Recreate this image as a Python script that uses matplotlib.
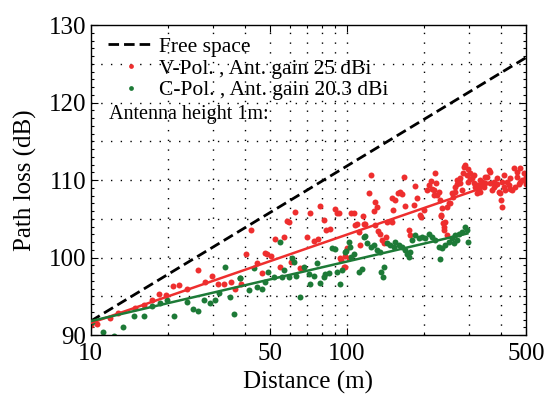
import numpy as np
import matplotlib
matplotlib.use("Agg")
import matplotlib.pyplot as plt
from matplotlib.ticker import FixedLocator, NullFormatter, MultipleLocator, FixedFormatter

plt.rcParams['font.family'] = ['Liberation Serif', 'DejaVu Serif']

# ---------------- data ----------------
red_d = [10.0, 10.6, 11.9, 12.8, 14.9, 16.1, 17.3, 18.5, 19.7, 21.0, 22.2, 23.7, 26.3, 28.0, 29.7,
         31.5, 33.2, 35.2, 36.6, 38.7, 40.3, 42.3, 44.5, 46.5, 48.7, 50.5, 52.5, 56.6, 54.6, 58.6,
         60.6, 62.8, 67.3, 69.8, 71.5, 74.1, 76.8, 78.2, 81.1, 83.0, 85.5, 90.0, 91.4, 94.8, 97.9,
         100.0, 103.7, 106.9, 109.4, 115.5, 116.1, 122.2, 124.1, 127.1, 129.1, 132.1, 137.0, 142.6,
         150.0, 151.4, 154.5, 157.8, 160.7, 164.1, 166.4, 169.0, 175.0, 182.0, 184.9, 187.5, 192.1,
         194.4, 199.1, 205.4, 208.5, 214.8, 218.3, 221.3, 223.4, 228.0, 230.1, 232.8, 237.1, 239.9,
         245.9, 253.4, 259.4, 264.9, 269.2, 277.3, 283.8, 289.7, 295.8, 303.4, 312.6, 322.1, 331.9,
         342.0, 352.4, 363.1, 374.1, 385.5, 397.2, 403.2, 409.3, 421.7, 434.5, 447.7, 461.3, 475.3,
         489.7, 497.5,
         212.0, 218.3, 225.5, 235.6, 232.2, 249.6, 257.9, 269.2, 282.2, 286.4, 295.0, 308.0, 316.8,
         322.1, 342.0, 357.7, 379.8, 391.3, 400.0, 440.9, 468.3, 475.3, 482.5, 415.5, 368.6, 336.9,
         347.2, 331.9, 303.4, 277.3, 264.9,
         107.8, 117.9, 129.1, 143.3, 150.0, 134.9, 139.1, 112.7, 101.5, 97.0, 176.6, 238.5, 242.2,
         245.9, 59.2, 92.8, 130.9, 111.1, 48.0, 65.7, 98.5, 94.2,
         326.9, 347.2, 385.5, 428.0, 454.5, 489.7, 497.5, 434.5, 374.0, 363.0, 331.9, 312.6, 295.8,
         461.0, 409.0, 403.0]
red_pl = [91.3, 91.4, 92.15, 92.9, 93.45, 93.9, 94.5, 95.25, 95.2, 96.3, 96.45, 95.9, 98.4, 96.9, 97.65,
          96.65, 96.65, 96.9, 95.9, 96.55, 100.4, 103.6, 99.25, 97.95, 100.45, 100.2, 102.35, 102.6, 98.8, 104.75,
          99.45, 105.9, 98.6, 102.6, 105.7, 102.1, 102.35, 106.65, 104.9, 103.6, 103.7, 106.2, 105.8, 99.7, 100.25,
          101.2, 105.7, 105.8, 104.3, 105.35, 104.3, 108.3, 110.65, 106.05, 107.2, 103.45, 102.25, 102.7,
          107.65, 106.1, 107.4, 108.3, 108.4, 108.2, 110.45, 106.65, 103.55, 106.8, 109.2, 107.65, 105.5,
          105.2, 106.1, 108.7, 109.35, 108.8, 108.05, 110.95, 109.6, 108.5, 107.4, 105.5, 104.4, 103.55,
          106.55, 107.0, 107.85, 108.5, 109.5, 110.2, 110.85, 111.9, 111.4, 110.1, 110.65, 109.35, 110.0,
          109.65, 110.45, 111.1, 109.8, 109.55, 108.3, 106.55, 109.1, 109.8, 110.2, 111.5, 110.45, 109.8,
          110.85, 109.55,
          109.9, 108.7, 108.05, 106.35, 105.3, 107.0, 108.3, 110.0, 108.7, 111.7, 110.65, 110.2, 109.1,
          108.3, 109.1, 111.3, 109.35, 108.5, 107.4, 108.7, 109.55, 111.5, 110.0, 108.7, 108.7, 109.8,
          110.45, 108.5, 110.85, 109.6, 109.15,
          104.2, 104.3, 104.2, 104.6, 104.6, 103.1, 101.85, 101.6, 99.9, 98.8, 102.9, 104.0, 104.6,
          102.9, 104.6, 105.7, 106.55, 103.3, 100.55, 98.6, 98.8, 99.9,
          108.9, 109.6, 110.2, 109.35, 109.1, 110.0, 110.45, 108.9, 109.1, 109.6, 109.35, 109.6, 109.8,
          111.1, 110.65, 109.8]

green_d = [10.1, 11.2, 12.3, 13.4, 14.7, 16.1, 17.3, 18.7, 19.9, 21.2, 23.7, 25.0, 26.3, 27.7, 29.1,
           30.6, 31.8, 33.5, 35.0, 36.4, 38.1, 41.3, 44.5, 46.5, 49.4, 51.7, 54.9, 56.9, 61.3, 63.4,
           65.3, 67.7, 70.8, 71.9, 76.3, 78.6, 82.3, 84.8, 87.4, 90.0, 93.6, 95.5, 99.4, 101.5, 103.7,
           107.0, 111.1, 114.4, 117.9, 119.7, 124.1, 127.1, 130.9, 134.9, 135.8, 138.3, 139.9, 143.3,
           147.6, 152.1, 154.5, 159.2, 164.1, 169.0, 171.5, 174.2, 176.6, 179.4, 184.9, 190.5, 196.3,
           202.3, 208.5, 214.8, 221.3, 228.0, 235.0, 231.5, 242.2, 249.6, 257.2, 264.9, 273.0, 281.3,
           289.7, 294.4, 297.0, 269.2, 261.1, 116.1,
           48.0, 55.8, 59.2, 61.9, 74.1, 81.1, 91.4, 98.5, 103.0, 43.2, 38.3]
green_pl = [91.7, 90.4, 89.9, 91.0, 92.5, 92.5, 93.8, 94.1, 94.5, 92.5, 94.3, 93.3, 93.1, 94.5, 94.2,
            94.5, 95.4, 98.8, 94.95, 92.7, 97.3, 95.8, 96.15, 95.9, 98.2, 97.5, 102.05, 98.4, 100.0, 97.65,
            94.85, 98.8, 97.85, 96.65, 99.25, 96.75, 97.85, 98.05, 101.2, 101.05, 96.6, 98.4, 100.9, 102.05, 100.1,
            100.5, 98.2, 98.5, 102.8, 101.85, 101.3, 101.6, 101.0, 100.7, 98.2, 97.5, 98.8, 101.85,
            101.6, 101.4, 102.05, 101.6, 101.4, 100.95, 100.5, 100.1, 100.75, 102.25, 102.9, 102.5, 102.7,
            102.5, 103.1, 102.7, 102.25, 101.4, 101.2, 99.75, 101.6, 102.05, 102.5, 102.9, 103.1, 103.35,
            104.0, 103.55, 102.05, 102.25, 101.85, 102.7,
            96.9, 97.5, 97.5, 99.45, 97.6, 97.5, 98.2, 100.75, 101.4, 98.6, 97.3]

# free-space reference and fitted lines (end points)
fs_d = [10, 500]
fs_pl = [91.8, 125.8]
red_fit_d = [10, 325]
red_fit_pl = [91.55, 108.8]
green_fit_d = [10, 295]
green_fit_pl = [91.8, 103.1]

x_major = [10, 50, 100, 500]
x_minor = [20, 30, 40, 60, 70, 80, 90, 200, 300, 400]
y_major = [90, 100, 110, 120, 130]
y_grid = [95, 100, 105, 110, 115, 120, 125]

RED = '#ee2e2e'
GREEN = '#1d7a37'

# ---------------- figure ----------------
fig = plt.figure(figsize=(5.48, 3.97), dpi=100)
ax = fig.add_axes([0.1655, 0.156, 0.7945, 0.781])

ax.set_xscale('log')
ax.set_xlim(10, 500)
ax.set_ylim(90, 130)

grid_kw = dict(color='black', linewidth=1.0, linestyle=(0, (1, 6)), zorder=0)
for v in x_major[1:-1] + x_minor:
    ax.axvline(v, **grid_kw)
for v in y_grid:
    ax.axhline(v, **grid_kw)

ax.plot(fs_d, fs_pl, color='black', linestyle=(0, (3.8, 1.8)), linewidth=2.0,
        label='Free space', zorder=3)
ax.plot(red_d, red_pl, linestyle='none', marker='o', markersize=4.3, color=RED,
        markeredgewidth=0, label='V-Pol. , Ant. gain 25 dBi', zorder=2)
ax.plot(green_d, green_pl, linestyle='none', marker='o', markersize=4.3, color=GREEN,
        markeredgewidth=0, label='C-Pol. , Ant. gain 20.3 dBi', zorder=2)
ax.plot(red_fit_d, red_fit_pl, color=RED, linewidth=1.8, zorder=3)
ax.plot(green_fit_d, green_fit_pl, color=GREEN, linewidth=1.8, zorder=3)

ax.xaxis.set_major_locator(FixedLocator(x_major))
ax.xaxis.set_minor_locator(FixedLocator(x_minor))
ax.xaxis.set_major_formatter(FixedFormatter([str(v) for v in x_major]))
ax.xaxis.set_minor_formatter(NullFormatter())
ax.yaxis.set_major_locator(FixedLocator(y_major))
ax.yaxis.set_minor_locator(MultipleLocator(1))

ax.tick_params(which='both', direction='in', top=True, right=True, labelsize=18, width=0.8)
ax.tick_params(which='major', length=5)
ax.tick_params(axis='x', which='major', pad=6)
ax.tick_params(axis='y', which='major', pad=3)
ax.tick_params(which='minor', length=2.5)
for s in ax.spines.values():
    s.set_linewidth(1.0)

ax.set_xlabel('Distance (m)', fontsize=18, labelpad=4)
ax.set_ylabel('Path loss (dB)', fontsize=18, labelpad=9)

leg = ax.legend(loc='upper left', bbox_to_anchor=(0.04, 0.962), frameon=False,
                fontsize=15.5, borderpad=0, borderaxespad=0, labelspacing=0.08,
                handlelength=2.1, handletextpad=0.25, markerscale=0.8)
ax.text(0.042, 0.712, 'Antenna height 1m:', transform=ax.transAxes, fontsize=14.5,
        va='center', ha='left')

fig.savefig('out.png', dpi=100)
